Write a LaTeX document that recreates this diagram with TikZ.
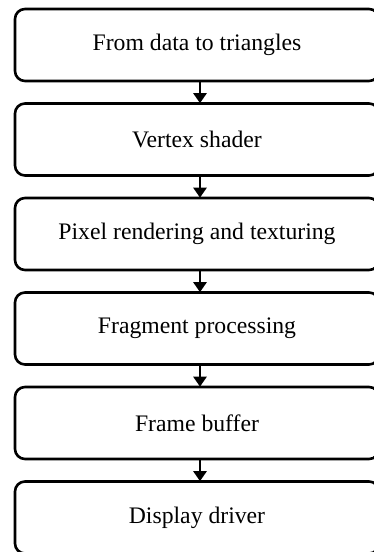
\documentclass[tikz,border=0pt]{standalone}
\usepackage{fontspec}
\setmainfont{Liberation Serif}
\usetikzlibrary{arrows.meta}
\begin{document}
\begin{tikzpicture}[x=1pt,y=-1pt,
  stagebox/.style={draw=black, line width=2.6pt, rounded corners=10pt,
    minimum width=364pt, minimum height=72pt, inner sep=0pt,
    font=\fontsize{23.7}{28}\selectfont},
  flowarrow/.style={line width=2.4pt, -{Triangle[width=13pt,length=10pt]}, shorten >=-1pt}]
\useasboundingbox (0,0) rectangle (374,552);
\clip (0,0) rectangle (374,552);
\node[stagebox] (b1) at (197,45) {From data to triangles};
\node[stagebox] (b2) at (197,139.5) {Vertex shader};
\node[stagebox] (b3) at (197,234) {Pixel rendering and texturing};
\node[stagebox] (b4) at (197,328.5) {Fragment processing};
\node[stagebox] (b5) at (197,423) {Frame buffer};
\node[stagebox] (b6) at (197,517.5) {Display driver};
\foreach \a/\b in {b1/b2,b2/b3,b3/b4,b4/b5,b5/b6}
  \draw[flowarrow] ([xshift=3pt]\a.south) -- ([xshift=3pt]\b.north);
\end{tikzpicture}
\end{document}
